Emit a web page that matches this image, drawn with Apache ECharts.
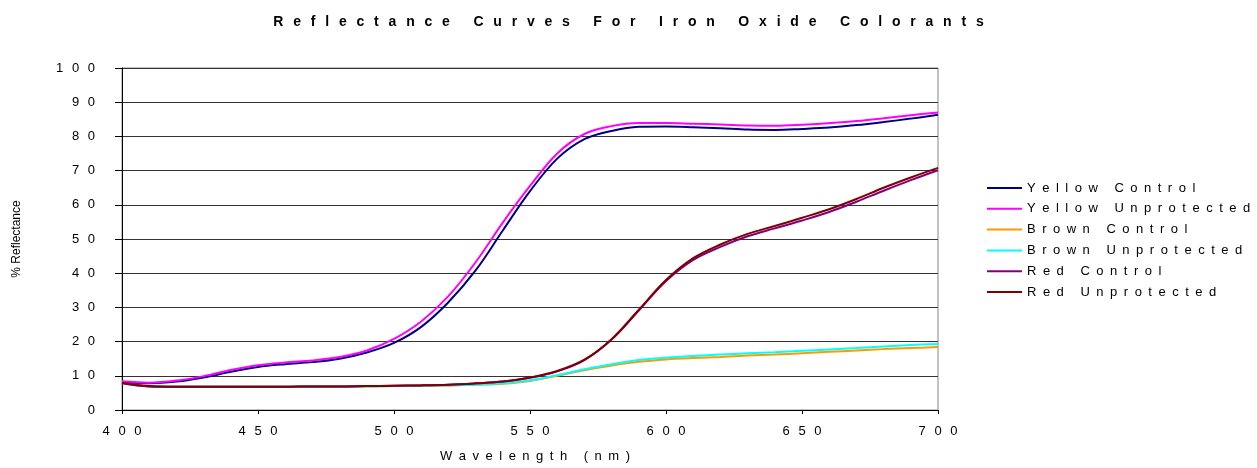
<!DOCTYPE html>
<html>
<head>
<meta charset="utf-8">
<script src="https://cdn.jsdelivr.net/npm/echarts@6/dist/echarts.min.js"></script>
<style>
html,body{margin:0;padding:0;background:#fff;}
#chart{width:1257px;height:468px;}
</style>
</head>
<body>
<div id="chart"></div>
<script>
const wavelengths = [400,410,420,430,440,450,460,470,480,490,500,510,520,530,540,550,560,570,580,590,600,610,620,630,640,650,660,670,680,690,700];
const yellowControl = [8.2,7.8,8.3,9.5,11.2,12.6,13.4,14.0,15.0,16.8,19.6,24.3,31.5,40.8,52.5,64.0,73.5,79.2,81.6,82.8,82.9,82.7,82.4,82.0,81.9,82.2,82.6,83.3,84.2,85.2,86.3];
const yellowUnprotected = [8.4,8.0,8.6,9.9,11.7,13.1,13.9,14.5,15.5,17.4,20.8,25.9,33.3,43.2,54.8,65.5,75.0,80.7,83.0,83.9,83.9,83.7,83.5,83.2,83.1,83.4,83.9,84.5,85.3,86.2,87.0];
const brownControl = [7.8,6.9,6.8,6.8,6.8,6.8,6.8,6.8,6.9,6.9,7.0,7.1,7.2,7.4,7.7,8.5,10.0,11.6,13.0,14.1,14.8,15.2,15.5,15.9,16.2,16.6,17.0,17.4,17.8,18.1,18.4];
const brownUnprotected = [7.9,6.9,6.8,6.8,6.8,6.8,6.8,6.8,6.9,6.9,7.0,7.1,7.2,7.4,7.8,8.7,10.2,11.9,13.4,14.6,15.3,15.8,16.2,16.6,16.9,17.3,17.7,18.1,18.6,19.0,19.3];
const redControl = [7.8,6.9,6.8,6.8,6.8,6.8,6.8,6.9,6.9,7.0,7.1,7.2,7.4,7.8,8.3,9.4,11.3,14.6,20.6,29.1,37.7,43.9,47.7,50.8,53.1,55.4,57.9,60.9,64.1,67.2,70.1];
const redUnprotected = [8.0,7.0,6.8,6.8,6.8,6.8,6.8,6.9,6.9,7.0,7.1,7.2,7.4,7.8,8.3,9.5,11.4,14.7,20.7,29.3,38.0,44.4,48.4,51.5,53.8,56.2,58.7,61.7,65.0,68.0,70.8];

const seriesNames = ['Yellow Control','Yellow Unprotected','Brown Control','Brown Unprotected','Red Control','Red Unprotected'];
const seriesData = [yellowControl, yellowUnprotected, brownControl, brownUnprotected, redControl, redUnprotected];
const seriesColors = ['#000080','#FF00FF','#FF9900','#00FFFF','#800080','#800000'];
const titleText = 'Reflectance Curves For Iron Oxide Colorants';
const xAxisTitle = 'Wavelength (nm)';
const yAxisTitle = '% Reflectance';

const EN = '\u2002';
function spaced(s, sep){
  sep = sep || EN;
  return String(s).split(' ').map(w => w.split('').join(sep)).join(sep + ' ' + sep);
}
const TITLE_SEP = '\u2002\u2009';
const TICK_SEP = '\u2002\u2006';

const FONT = '"Liberation Sans", Arial, sans-serif';
const chart = echarts.init(document.getElementById('chart'));
chart.setOption({
  backgroundColor: '#fff',
  animation: false,
  title: {
    text: spaced(titleText, TITLE_SEP),
    left: 'center',
    top: 10,
    textStyle: { fontFamily: FONT, fontSize: 14, fontWeight: 'bold', color: '#000' }
  },
  legend: {
    orient: 'vertical',
    left: 982,
    top: 176,
    itemWidth: 35,
    itemHeight: 2,
    itemGap: 6.8,
    data: seriesNames.map((n, i) => ({ name: n, icon: 'rect', itemStyle: { color: seriesColors[i] } })),
    formatter: n => spaced(n),
    textStyle: { fontFamily: FONT, fontSize: 13, color: '#000', lineHeight: 14 }
  },
  grid: { left: 122, right: 319, top: 68, bottom: 57, show: true, borderColor: '#888', borderWidth: 1, backgroundColor: 'transparent' },
  xAxis: {
    type: 'value', min: 400, max: 700, interval: 50,
    name: spaced(xAxisTitle), nameLocation: 'middle', nameGap: 40,
    nameTextStyle: { fontFamily: FONT, fontSize: 13, color: '#000', padding: [0, 0, 0, 10] },
    axisLine: { show: true, lineStyle: { color: '#000', width: 1 } },
    axisTick: { show: true, length: 4, lineStyle: { color: '#000' } },
    axisLabel: { formatter: v => spaced(v, TICK_SEP), fontFamily: FONT, fontSize: 13, color: '#000', margin: 15 },
    splitLine: { show: false }
  },
  yAxis: {
    type: 'value', min: 0, max: 100, interval: 10,
    name: yAxisTitle, nameLocation: 'middle', nameGap: 99, nameRotate: 90,
    nameTextStyle: { fontFamily: FONT, fontSize: 12, color: '#000' },
    axisLine: { show: true, lineStyle: { color: '#000', width: 1 } },
    axisTick: { show: true, length: 7, lineStyle: { color: '#000' } },
    axisLabel: { formatter: v => spaced(v, TICK_SEP), fontFamily: FONT, fontSize: 13, color: '#000', margin: 27 },
    splitLine: { show: true, lineStyle: { color: '#333', width: 1 } }
  },
  series: seriesNames.map((n, i) => ({
    name: n,
    type: 'line',
    smooth: 0.35,
    symbol: 'none',
    showSymbol: false,
    data: wavelengths.map((w, j) => [w, seriesData[i][j]]),
    lineStyle: { color: seriesColors[i], width: 2 },
    itemStyle: { color: seriesColors[i] }
  }))
});
</script>
</body>
</html>
